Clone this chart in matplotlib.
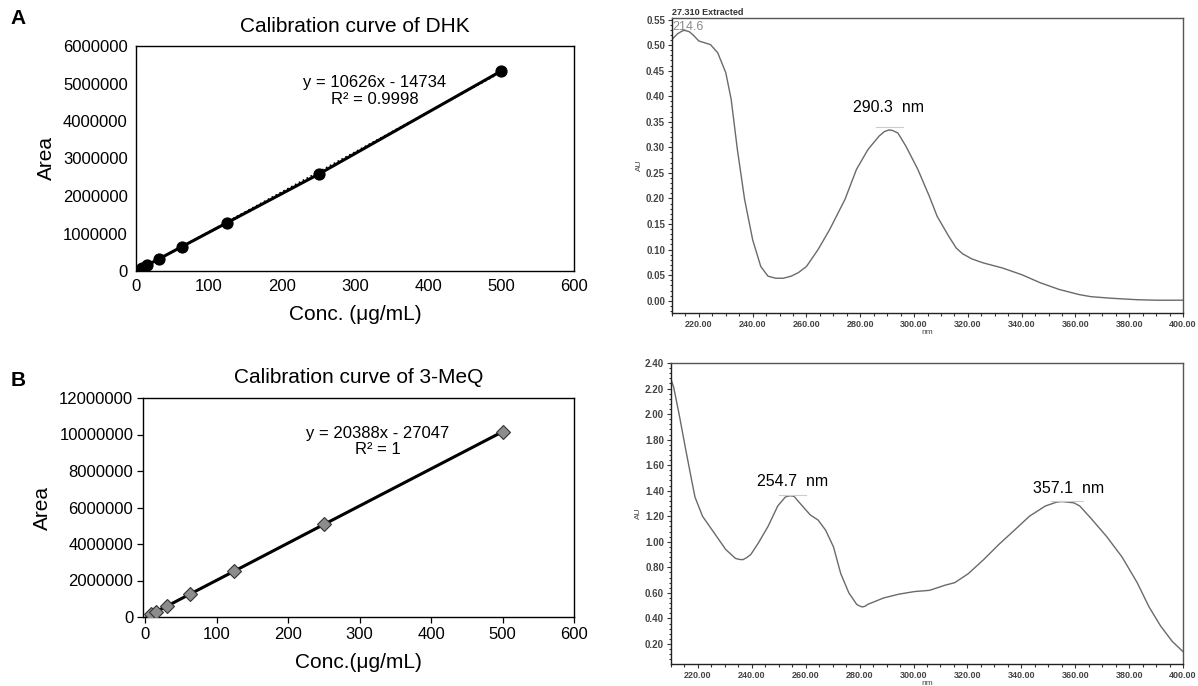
import numpy as np
import matplotlib.pyplot as plt
from matplotlib.ticker import MultipleLocator, FormatStrFormatter

# =========================
# Data
# =========================
# calibration curves (concentration in ug/mL, peak area)
conc_dhk = [3.9, 7.8, 15.6, 31.25, 62.5, 125, 250, 500]
area_dhk = [35000, 75000, 160000, 320000, 645000, 1290000, 2580000, 5330000]
fit_dhk = (10626, -14734)

conc_meq = [7.8, 15.6, 31.25, 62.5, 125, 250, 500]
area_meq = [140000, 300000, 610000, 1250000, 2520000, 5070000, 10150000]
fit_meq = (20388, -27047)

# UV spectra (nm, AU)
wl_dhk = [210, 212, 213.6, 214.6, 216.5, 218, 220, 224.3, 227, 230, 232, 234.3,
          237, 240, 243, 245.7, 248.6, 251.4, 254.3, 257, 260, 264.3, 268.6,
          274.3, 278.6, 282.9, 287, 289, 290.7, 292, 294, 297, 301.4, 305.7,
          308.6, 312.9, 315.7, 318, 321.4, 325.7, 332.9, 340, 347, 354, 361.4,
          365.7, 372.9, 382.9, 390, 400]
au_dhk = [0.511, 0.522, 0.527, 0.529, 0.526, 0.519, 0.508, 0.501, 0.485, 0.446,
          0.394, 0.296, 0.198, 0.119, 0.067, 0.048, 0.044, 0.044, 0.048, 0.055,
          0.067, 0.100, 0.139, 0.198, 0.257, 0.296, 0.322, 0.331, 0.334, 0.333,
          0.328, 0.302, 0.257, 0.204, 0.165, 0.126, 0.103, 0.092, 0.082, 0.074,
          0.064, 0.051, 0.035, 0.022, 0.012, 0.008, 0.005, 0.002, 0.001, 0.001]

wl_meq = [209.7, 211, 213, 215.3, 217.4, 218.9, 221.7, 226, 230.3, 233.9, 235.3,
          236.7, 238, 239.6, 242.4, 246, 249.6, 252.4, 253.5, 254.6, 255.7,
          256.7, 259.6, 261.7, 264.6, 267.4, 270.3, 273, 276, 278.9, 280, 281,
          282, 283, 288.9, 294.6, 300.3, 306, 311.7, 315.3, 320.3, 326, 331.7,
          337.4, 343, 348.9, 353, 355, 357.4, 359.5, 361.7, 366, 371.7, 377.4,
          383, 387.4, 391.7, 396, 400]
au_meq = [2.29, 2.21, 2.00, 1.74, 1.51, 1.35, 1.20, 1.07, 0.94, 0.87, 0.862,
          0.86, 0.875, 0.90, 0.99, 1.12, 1.28, 1.35, 1.358, 1.36, 1.355,
          1.33, 1.26, 1.21, 1.17, 1.09, 0.96, 0.75, 0.60, 0.51, 0.497, 0.49,
          0.495, 0.51, 0.56, 0.59, 0.61, 0.62, 0.66, 0.68, 0.75, 0.86, 0.98,
          1.09, 1.20, 1.28, 1.31, 1.315, 1.31, 1.305, 1.28, 1.18, 1.04, 0.88,
          0.68, 0.49, 0.34, 0.22, 0.14]

# =========================
# Style
# =========================
plt.rcParams.update({
    "font.family": ["Liberation Sans", "DejaVu Sans"],
    "font.size": 11,
    "axes.linewidth": 1.0,
})

W, H = 1198, 686
fig = plt.figure(figsize=(W / 100, H / 100), dpi=100)


def px_axes(x0, y0, x1, y1):
    # pixel box (left, top, right, bottom) -> figure axes
    return fig.add_axes([x0 / W, 1 - y1 / H, (x1 - x0) / W, (y1 - y0) / H])


def calib(ax, conc, area, fit, marker, mfc, ylim, ystep, xlim, eq_text):
    xs = np.array([0, max(conc)])
    ax.plot(conc, area, color="black", linewidth=2.2, marker=marker,
            markersize=8 if marker == "o" else 7, markerfacecolor=mfc,
            markeredgecolor="black" if marker == "o" else "#333333",
            markeredgewidth=0.8, zorder=3)
    ax.plot(xs, fit[0] * xs + fit[1], color="black", linestyle=":",
            linewidth=1.2, zorder=2)
    ax.set_xlim(*xlim)
    ax.set_ylim(*ylim)
    ax.xaxis.set_major_locator(MultipleLocator(100))
    ax.yaxis.set_major_locator(MultipleLocator(ystep))
    ax.yaxis.set_major_formatter(FormatStrFormatter("%d"))
    ax.tick_params(labelsize=12)
    ax.text(0.545, 0.80, eq_text, transform=ax.transAxes, ha="center",
            va="center", fontsize=12, linespacing=1.1)


def spectrum(ax, wl, au, ylim, ystep, yminor, fmt):
    ax.plot(wl, au, color="#6a6a6a", linewidth=1.0, solid_joinstyle="round")
    ax.set_xlim(210, 400)
    ax.set_ylim(*ylim)
    ax.xaxis.set_major_locator(MultipleLocator(20))
    ax.xaxis.set_minor_locator(MultipleLocator(5))
    ax.yaxis.set_major_locator(MultipleLocator(ystep))
    ax.yaxis.set_minor_locator(MultipleLocator(yminor))
    ax.xaxis.set_major_formatter(FormatStrFormatter("%.2f"))
    ax.yaxis.set_major_formatter(FormatStrFormatter(fmt))
    for s in ax.spines.values():
        s.set_color("#555555")
        s.set_linewidth(1.0)
    ax.spines["left"].set_color("#222222")
    ax.spines["bottom"].set_color("#222222")
    ax.tick_params(which="both", length=3, width=0.8, color="#333333",
                   labelsize=7, labelcolor="#444444", pad=2)
    ax.tick_params(axis="x", labelsize=6.5)
    ax.tick_params(which="minor", length=1.8)
    for lab in ax.get_xticklabels() + ax.get_yticklabels():
        lab.set_fontweight("bold")
    ax.set_xlabel("nm", fontsize=6, color="#444444", labelpad=0)
    ax.set_ylabel("AU", fontsize=6, color="#444444", labelpad=2)


# =========================
# (A) DHK calibration
# =========================
axA = px_axes(136, 46, 574, 271)
calib(axA, conc_dhk, area_dhk, fit_dhk, "o", "black", (0, 6000000), 1000000,
      (0, 600), "y = 10626x - 14734\nR² = 0.9998")
axA.tick_params(length=0, pad=6)
axA.set_title("Calibration curve of DHK", fontsize=15, pad=10)
axA.set_xlabel("Conc. (\u03bcg/mL)", fontsize=15, labelpad=8)
axA.set_ylabel("Area", fontsize=15, labelpad=5)

# =========================
# (B) 3-MeQ calibration
# =========================
axB = px_axes(143, 398, 574, 617)
calib(axB, conc_meq, area_meq, fit_meq, "D", "#8c8c8c", (0, 12000000), 2000000,
      (-3, 600), "y = 20388x - 27047\nR² = 1")
axB.tick_params(direction="out", length=4, width=0.9, pad=3)
axB.set_title("Calibration curve of 3-MeQ", fontsize=15, pad=11)
axB.set_xlabel("Conc.(\u03bcg/mL)", fontsize=15, labelpad=8)
axB.set_ylabel("Area", fontsize=15, labelpad=5)

fig.text(18 / W, 1 - 18 / H, "A", fontsize=15, fontweight="bold",
         ha="center", va="center")
fig.text(18 / W, 1 - 380 / H, "B", fontsize=15, fontweight="bold",
         ha="center", va="center")

# =========================
# UV spectra
# =========================
axS1 = px_axes(672, 18, 1183, 313)
spectrum(axS1, wl_dhk, au_dhk, (-0.024, 0.553), 0.05, 0.01, "%.2f")
axS1.text(0.0, 1.005, "27.310 Extracted", transform=axS1.transAxes,
          fontsize=6.5, fontweight="bold", color="#333333", ha="left",
          va="bottom")
axS1.text(210.3, 0.535, "214.6", fontsize=9, color="#888888", ha="left",
          va="center")
axS1.text(290.5, 0.364, "290.3  nm", fontsize=11.5, ha="center", va="bottom")
axS1.plot([286, 296], [0.339, 0.339], color="#cccccc", linewidth=0.8)

axS2 = px_axes(671, 363, 1183, 664)
spectrum(axS2, wl_meq, au_meq, (0.043, 2.40), 0.20, 0.04, "%.2f")
axS2.text(255, 1.41, "254.7  nm", fontsize=11.5, ha="center", va="bottom")
axS2.text(357.5, 1.355, "357.1  nm", fontsize=11.5, ha="center", va="bottom")
axS2.plot([250, 260], [1.37, 1.37], color="#cccccc", linewidth=0.8)
axS2.plot([351, 363], [1.32, 1.32], color="#cccccc", linewidth=0.8)

fig.savefig("out.png", dpi=100)
